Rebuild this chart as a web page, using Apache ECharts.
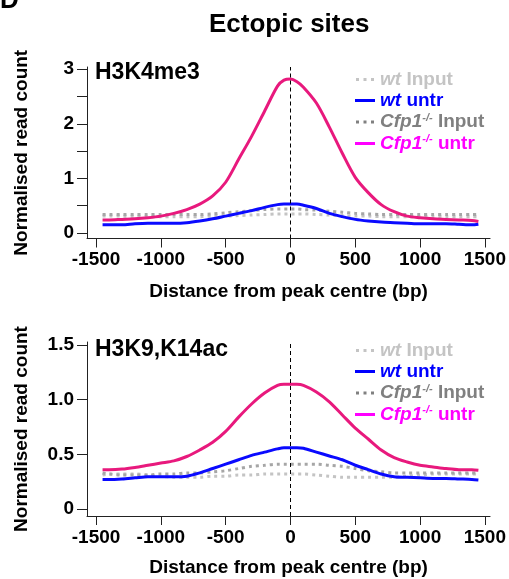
<!DOCTYPE html>
<html>
<head>
<meta charset="utf-8">
<script src="https://cdn.jsdelivr.net/npm/echarts@6/dist/echarts.min.js"></script>
<style>
  html, body { margin: 0; padding: 0; background: #fff; }
  #chart { width: 509px; height: 579px; }
</style>
</head>
<body>
<div id="chart"></div>
<script>
// distance from peak centre (bp)
const distance = [-1450, -1400, -1300, -1200, -1100, -1000, -900, -800, -700, -600, -500, -400, -300, -200, -100, -50,
    0, 50, 100, 200, 300, 400, 500, 600, 700, 800, 900, 1000, 1100, 1200, 1300, 1400, 1450];

// H3K4me3 panel
const k4WtInput = [0.31, 0.31, 0.31, 0.30, 0.30, 0.30, 0.30, 0.30, 0.30, 0.31, 0.31, 0.32, 0.33, 0.34, 0.35, 0.35,
    0.35, 0.35, 0.35, 0.34, 0.33, 0.32, 0.31, 0.31, 0.30, 0.30, 0.30, 0.30, 0.30, 0.30, 0.30, 0.30, 0.30];
const k4WtUntr = [0.15, 0.15, 0.15, 0.17, 0.18, 0.18, 0.18, 0.19, 0.22, 0.26, 0.31, 0.36, 0.41, 0.47, 0.52, 0.53,
    0.53, 0.53, 0.51, 0.45, 0.36, 0.30, 0.25, 0.22, 0.20, 0.19, 0.18, 0.17, 0.17, 0.17, 0.16, 0.15, 0.16];
const k4CfpInput = [0.34, 0.34, 0.34, 0.34, 0.34, 0.34, 0.34, 0.34, 0.34, 0.35, 0.37, 0.39, 0.41, 0.43, 0.44, 0.44,
    0.44, 0.44, 0.43, 0.42, 0.40, 0.38, 0.36, 0.35, 0.34, 0.34, 0.34, 0.34, 0.34, 0.34, 0.34, 0.34, 0.34];
const k4CfpUntr = [0.24, 0.24, 0.25, 0.26, 0.28, 0.31, 0.36, 0.43, 0.53, 0.68, 0.93, 1.35, 1.77, 2.23, 2.69, 2.80,
    2.82, 2.77, 2.67, 2.38, 1.94, 1.46, 1.02, 0.74, 0.52, 0.39, 0.31, 0.28, 0.26, 0.25, 0.24, 0.23, 0.21];

// H3K9,K14ac panel
const acWtInput = [0.31, 0.32, 0.32, 0.32, 0.31, 0.30, 0.29, 0.29, 0.29, 0.30, 0.30, 0.31, 0.31, 0.32, 0.32, 0.32,
    0.32, 0.32, 0.32, 0.31, 0.30, 0.29, 0.29, 0.29, 0.29, 0.29, 0.30, 0.31, 0.32, 0.32, 0.32, 0.32, 0.32];
const acWtUntr = [0.27, 0.27, 0.275, 0.285, 0.295, 0.295, 0.295, 0.30, 0.33, 0.37, 0.41, 0.45, 0.49, 0.52, 0.55, 0.56,
    0.56, 0.56, 0.555, 0.52, 0.485, 0.45, 0.40, 0.36, 0.32, 0.295, 0.29, 0.285, 0.28, 0.28, 0.275, 0.27, 0.265];
const acCfpInput = [0.33, 0.32, 0.31, 0.31, 0.31, 0.32, 0.32, 0.33, 0.33, 0.34, 0.35, 0.37, 0.39, 0.40, 0.41, 0.41,
    0.41, 0.41, 0.41, 0.41, 0.40, 0.39, 0.37, 0.35, 0.34, 0.33, 0.33, 0.33, 0.33, 0.33, 0.33, 0.33, 0.33];
const acCfpUntr = [0.36, 0.36, 0.365, 0.38, 0.40, 0.42, 0.44, 0.48, 0.54, 0.61, 0.71, 0.84, 0.96, 1.06, 1.13, 1.14,
    1.14, 1.14, 1.13, 1.07, 0.98, 0.86, 0.74, 0.64, 0.54, 0.47, 0.43, 0.40, 0.385, 0.37, 0.36, 0.36, 0.355];

const xTicks = [-1500, -1000, -500, 0, 500, 1000, 1500];
const k4YTicks = [0, 0.5, 1, 1.5, 2, 2.5, 3];
const k4YLabels = [0, 1, 2, 3];
const acYTicks = [0, 0.5, 1, 1.5];

const seriesNames = ['wt Input', 'wt untr', 'Cfp1-/- Input', 'Cfp1-/- untr'];

const FONT = '"Liberation Sans", Arial, Helvetica, sans-serif';
const colors = {
    wtInput: '#c4c4c4',
    wtUntr: '#0a0aff',
    cfpInput: '#a6a6a6',
    cfpUntr: '#e8197d'
};

const pairs = (vals) => distance.map((d, i) => [d, vals[i]]);

function panelSeries(idx, wtInput, wtUntr, cfpInput, cfpUntr) {
    const base = {
        type: 'line',
        xAxisIndex: idx,
        yAxisIndex: idx,
        showSymbol: false,
        symbol: 'none',
        smooth: 0.3,
        silent: true
    };
    const dotted = (name, data, color) => Object.assign({}, base, {
        name, data: pairs(data),
        itemStyle: { color },
        lineStyle: { color, width: 3, type: [3, 4] }
    });
    const solid = (name, data, color) => Object.assign({}, base, {
        name, data: pairs(data),
        itemStyle: { color },
        lineStyle: { color, width: 3 }
    });
    const pink = solid(seriesNames[3], cfpUntr, colors.cfpUntr);
    pink.markLine = {
        silent: true,
        symbol: 'none',
        label: { show: false },
        lineStyle: { color: '#000', type: [4, 3], width: 1 },
        data: [{ xAxis: 0 }]
    };
    return [
        dotted(seriesNames[0], wtInput, colors.wtInput),
        dotted(seriesNames[2], cfpInput, colors.cfpInput),
        solid(seriesNames[1], wtUntr, colors.wtUntr),
        pink
    ];
}

function xAxisFor(idx, gap) {
    return {
        type: 'value',
        gridIndex: idx,
        min: -1570,
        max: 1540,
        name: 'Distance from peak centre (bp)',
        nameLocation: 'middle',
        nameGap: gap,
        nameTextStyle: { color: '#000', fontSize: 19, fontWeight: 'bold', fontFamily: FONT },
        axisLine: { onZero: false, lineStyle: { color: '#222', width: 1 } },
        axisTick: { length: 9, lineStyle: { color: '#222' }, customValues: xTicks },
        axisLabel: {
            color: '#000', fontSize: 19, fontWeight: 'bold', fontFamily: FONT, margin: 12,
            customValues: xTicks, formatter: (v) => String(v)
        },
        splitLine: { show: false }
    };
}

function yAxisFor(idx, min, max, ticks, labels, fmt) {
    return {
        type: 'value',
        gridIndex: idx,
        min, max,
        name: 'Normalised read count',
        nameLocation: 'middle',
        nameGap: 56,
        nameTextStyle: { color: '#000', fontSize: 19, fontWeight: 'bold', fontFamily: FONT },
        axisLine: { show: true, onZero: false, lineStyle: { color: '#222', width: 1 } },
        axisTick: { show: true, length: 10, lineStyle: { color: '#222' }, customValues: ticks },
        axisLabel: { color: '#000', fontSize: 19, fontWeight: 'bold', fontFamily: FONT, margin: 13, customValues: labels, formatter: fmt },
        splitLine: { show: false }
    };
}

const rich = {};
function addRich(key, color) {
    rich[key + 'i'] = { color, fontStyle: 'italic', fontWeight: 'bold', fontSize: 19, fontFamily: FONT, lineHeight: 19 };
    rich[key + 's'] = { color, fontStyle: 'italic', fontWeight: 'bold', fontSize: 11, fontFamily: FONT, padding: [0, 0, 9, 0] };
    rich[key + 'n'] = { color, fontWeight: 'bold', fontSize: 19, fontFamily: FONT, lineHeight: 19 };
}
addRich('a', '#c4c4c4');
addRich('b', '#0000ff');
addRich('c', '#808080');
addRich('d', '#ff00ff');

const legendText = {
    'wt Input': '{ai|wt}{an| Input}',
    'wt untr': '{bi|wt}{bn| untr}',
    'Cfp1-/- Input': '{ci|Cfp1}{cs|-/-}{cn| Input}',
    'Cfp1-/- untr': '{di|Cfp1}{ds|-/-}{dn| untr}'
};

const dots = 'path://M0,0h3v3h-3zM7.5,0h3v3h-3zM15,0h3v3h-3z';

function legendFor(top) {
    return {
        orient: 'vertical',
        left: 355,
        top,
        padding: 0,
        itemGap: 2,
        itemWidth: 20,
        itemHeight: 3,
        selectedMode: false,
        formatter: (name) => legendText[name],
        textStyle: { rich },
        data: [
            { name: seriesNames[0], icon: dots, itemStyle: { color: '#c4c4c4' } },
            { name: seriesNames[1], icon: 'rect', itemStyle: { color: '#0000ff' } },
            { name: seriesNames[2], icon: dots, itemStyle: { color: '#808080' } },
            { name: seriesNames[3], icon: 'rect', itemStyle: { color: '#ff00ff' } }
        ]
    };
}

const titleStyle = (size) => ({ color: '#000', fontSize: size, fontWeight: 'bold', fontFamily: FONT });

const option = {
    animation: false,
    backgroundColor: '#fff',
    title: [
        { text: 'D', left: 0, top: -12, padding: 0, textStyle: titleStyle(26) },
        { text: 'Ectopic sites', left: 209, top: 12, padding: 0, textStyle: titleStyle(26) },
        { text: 'H3K4me3', left: 95, top: 61, padding: 0, textStyle: titleStyle(23) },
        { text: 'H3K9,K14ac', left: 95, top: 338, padding: 0, textStyle: titleStyle(23) }
    ],
    legend: [legendFor(70), legendFor(341)],
    grid: [
        { left: 87, right: 17, top: 67, height: 171.5 },
        { left: 87, right: 17, top: 342, height: 174 }
    ],
    xAxis: [xAxisFor(0, 44), xAxisFor(1, 42)],
    yAxis: [
        yAxisFor(0, -0.1, 3.04, k4YTicks, k4YLabels, (v) => String(v)),
        yAxisFor(1, -0.064, 1.527, acYTicks, acYTicks, (v) => (v === 0 ? '0' : v.toFixed(1)))
    ],
    series: [
        ...panelSeries(0, k4WtInput, k4WtUntr, k4CfpInput, k4CfpUntr),
        ...panelSeries(1, acWtInput, acWtUntr, acCfpInput, acCfpUntr)
    ]
};

const chart = echarts.init(document.getElementById('chart'));
chart.setOption(option);
</script>
</body>
</html>
